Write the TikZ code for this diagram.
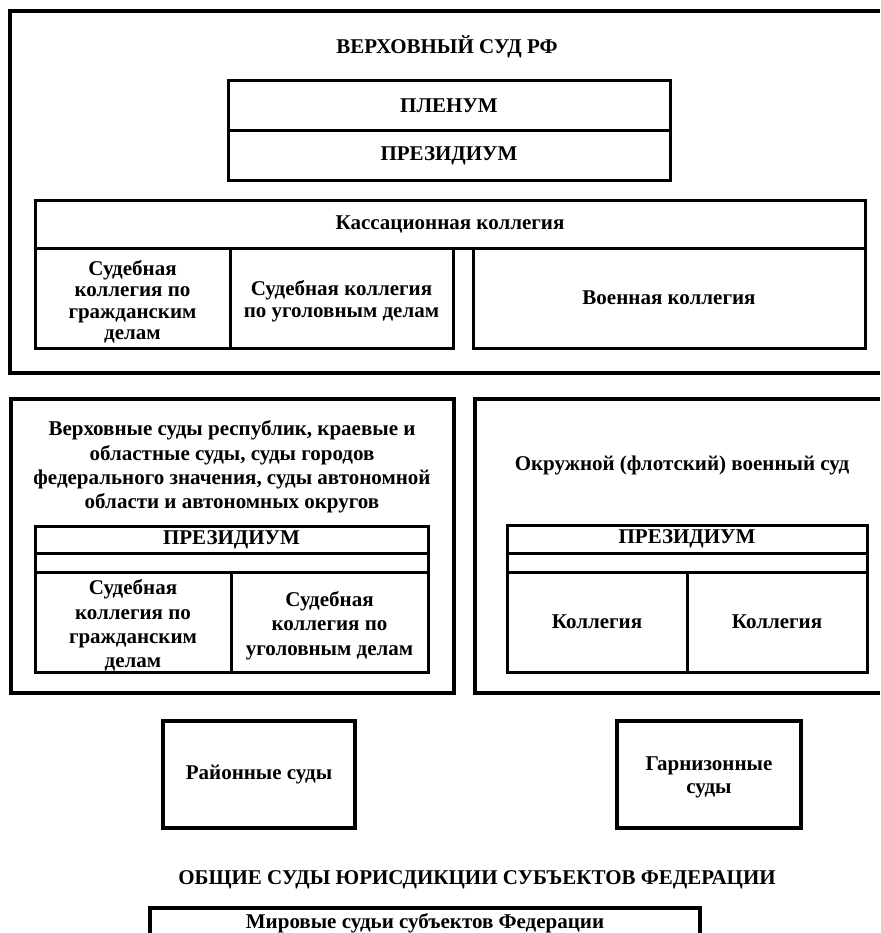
\documentclass[tikz,border=0pt]{standalone}
\usepackage{fontspec}
\setmainfont{Liberation Serif}
\begin{document}
\begin{tikzpicture}[x=1pt,y=-1pt,
  every node/.style={font=\fontsize{21}{21.5}\selectfont\bfseries, align=center, inner sep=0pt},
  heavy/.style={line width=4pt},
  cell/.style={draw, line width=3pt, rectangle},
  bigbox/.style={draw, line width=4pt, rectangle},
  midtext/.style={font=\fontsize{21}{24.3}\selectfont\bfseries}]
\useasboundingbox (0,0) rectangle (880,933);
% Supreme court frame (right side beyond the image)
\draw[heavy] (880,11) -- (10,11) -- (10,373) -- (880,373);
\node (vs) at (447,47) {ВЕРХОВНЫЙ СУД РФ};
\node[cell, minimum width=442, minimum height=50] (plen) at (449,106) {ПЛЕНУМ};
\node[cell, minimum width=442, minimum height=50] (prez) at (449,156) {ПРЕЗИДИУМ};
\node[cell, minimum width=830, minimum height=47] (kass) at (450,224.5) {Кассационная коллегия};
\node[cell, minimum width=195, minimum height=100] (civ) at (132.5,298) {};
\node (civt) at (132.5,302) {Судебная\\коллегия по\\гражданским\\делам};
\node[cell, minimum width=223, minimum height=100] (crim) at (341.5,298) {};
\node (crimt) at (341.5,301) {Судебная коллегия\\по уголовным делам};
\node[cell, minimum width=392, minimum height=100] (mil) at (669,298) {Военная коллегия};
% regional courts
\node[bigbox, minimum width=443, minimum height=294] (reg) at (232.5,546) {};
\node[midtext] (regt) at (232,467) {Верховные суды республик, краевые и\\областные суды, суды городов\\федерального значения, суды автономной\\области и автономных округов};
\node[cell, minimum width=393, minimum height=27] (rprez) at (231.5,539.5) {ПРЕЗИДИУМ};
\node[cell, minimum width=393, minimum height=19] (rblank) at (231.5,562.5) {};
\node[cell, minimum width=196, minimum height=100] (rciv) at (133,622) {};
\node[midtext] (rcivt) at (133,625.5) {Судебная\\коллегия по\\гражданским\\делам};
\node[cell, minimum width=197, minimum height=100] (rcrim) at (329.5,622) {};
\node[midtext] (rcrimt) at (329.5,625.5) {Судебная\\коллегия по\\уголовным делам};
% military district court (right side beyond the image)
\draw[heavy] (880,399) -- (475,399) -- (475,693) -- (880,693);
\node (okr) at (682,465) {Окружной (флотский) военный суд};
\node[cell, minimum width=360, minimum height=28] (oprez) at (687,539) {ПРЕЗИДИУМ};
\node[cell, minimum width=360, minimum height=19] (oblank) at (687,562.5) {};
\node[cell, minimum width=180, minimum height=100] (ok1) at (597,622) {Коллегия};
\node[cell, minimum width=180, minimum height=100] (ok2) at (777,622) {Коллегия};
% lower courts
\node[bigbox, minimum width=192, minimum height=107] (rayon) at (259,774.5) {Районные суды};
\node[bigbox, minimum width=184, minimum height=107] (garn) at (709,774.5) {};
\node[font=\fontsize{21}{23}\selectfont\bfseries] (garnt) at (709,777) {Гарнизонные\\суды};
\node (obsh) at (477,880) {ОБЩИЕ СУДЫ ЮРИСДИКЦИИ СУБЪЕКТОВ ФЕДЕРАЦИИ};
\draw[heavy] (150,935) -- (150,908) -- (700,908) -- (700,935);
\node (mir) at (425,923) {Мировые судьи субъектов Федерации};
\end{tikzpicture}
\end{document}
